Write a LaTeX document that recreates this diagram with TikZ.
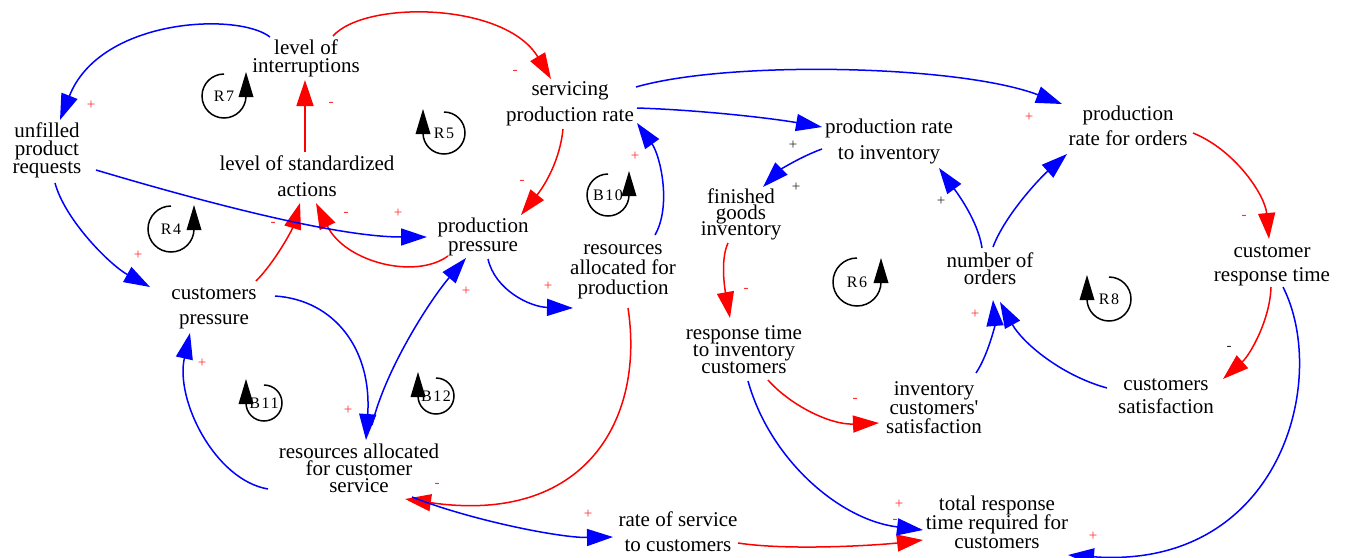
\documentclass[tikz,border=0pt]{standalone}
\usepackage{fontspec}
\setmainfont{Liberation Serif}
\newfontfamily\loopfont{Liberation Serif}[LetterSpace=10]
\usetikzlibrary{arrows.meta,calc}

\definecolor{linkblue}{RGB}{0,0,255}
\definecolor{linkred}{RGB}{255,0,0}
\definecolor{signred}{RGB}{255,45,45}
\definecolor{signgray}{RGB}{40,40,40}

\tikzset{
  % causal-loop variable, #1 = line spacing in pt
  var/.style={align=center, inner sep=1pt,
    font={\fontsize{21}{#1}\selectfont\lineskiplimit=-100pt}},
  link/.style={line width=1.5pt, -{Triangle[length=26pt,width=17pt]}},
  blink/.style={link, draw=linkblue},
  rlink/.style={link, draw=linkred},
  sgn/.style={font={\fontsize{15}{15}\selectfont}, text=signred, inner sep=0pt},
  sgnk/.style={sgn, text=signgray},
  looplabel/.style={font={\loopfont\fontsize{16}{16}\selectfont}, inner sep=0pt},
  % loop marker: #1 radius, #2 = 1 (arrow on the right) or -1 (arrow on the left), #3 label
  pics/loopmark/.style n args={3}{code={
    \begin{scope}[yscale=-1, xscale=#2]
      \draw[line width=1.5pt] (90:#1) arc[start angle=90, end angle=360, radius=#1];
      \fill (#1-7.5,-1) -- (#1+7.5,-1) -- (#1,24) -- cycle;
    \end{scope}
    \node[looplabel] (-label) {#3};
  }}
}

\begin{document}
\begin{tikzpicture}[x=1pt, y=-1pt]
\fill[white] (0,0) rectangle (1346,557);
\useasboundingbox (0,0) rectangle (1346,557);

% variables
\node[var=18] (intr) at (306,58) {level of\\interruptions};
\node[var=18] (unf)  at (47,150) {unfilled\\product\\requests};
\node[var=26] (std)  at (307,176) {level of standardized\\actions};
\node[var=26] (spr)  at (570,104) {servicing\\production rate};
\node[var=19] (ppr)  at (483,237) {production\\pressure};
\node[var=20] (rap)  at (623,272) {resources\\allocated for\\production};
\node[var=25] (cpr)  at (214,308) {customers\\pressure};
\node[var=17] (racs) at (359,468) {resources allocated\\for customer\\service};
\node[var=26] (pri)  at (889,141) {production rate\\to inventory};
\node[var=16] (fgi)  at (741,214) {finished\\goods\\inventory};
\node[var=25] (pro)  at (1128,126) {production\\rate for orders};
\node[var=24] (crt)  at (1272,266) {customer\\response time};
\node[var=17] (noo)  at (990,269) {number of\\orders};
\node[var=17] (rtic) at (744,350) {response time\\to inventory\\customers};
\node[var=19] (ics)  at (934,408) {inventory\\customers\textquotesingle\\satisfaction};
\node[var=23] (csat) at (1166,396) {customers\\satisfaction};
\node[var=25] (rsc)  at (678,532) {rate of service\\to customers};
\node[var=19] (trt)  at (997,522) {total response\\time required for\\customers};

% link polarities
\node[sgn]  (s1)  at (91,105)   {+};
\node[sgn]  (s2)  at (331,104)  {-};
\node[sgn]  (s3)  at (515,72)   {-};
\node[sgn]  (s4)  at (522,182)  {-};
\node[sgn]  (s5)  at (273,224)  {-};
\node[sgn]  (s6)  at (346,214)  {-};
\node[sgn]  (s7)  at (398,213)  {+};
\node[sgn]  (s8)  at (138,255)  {+};
\node[sgn]  (s9)  at (635,156)  {+};
\node[sgnk] (s10) at (793,145)  {+};
\node[sgnk] (s11) at (796,187)  {+};
\node[sgn]  (s12) at (1029,117) {+};
\node[sgnk] (s13) at (941,201)  {+};
\node[sgn]  (s14) at (1244,217) {-};
\node[sgn]  (s15) at (466,291)  {+};
\node[sgn]  (s16) at (548,286)  {+};
\node[sgn]  (s17) at (202,363)  {+};
\node[sgn]  (s18) at (348,410)  {+};
\node[sgn]  (s19) at (437,485)  {-};
\node[sgn]  (s20) at (588,514)  {+};
\node[sgn]  (s21) at (746,290)  {-};
\node[sgn]  (s22) at (855,400)  {-};
\node[sgn]  (s23) at (975,314)  {+};
\node[sgnk] (s24) at (1229,348) {-};
\node[sgn]  (s25) at (899,504)  {+};
\node[sgn]  (s26) at (895,521)  {-};
\node[sgn]  (s27) at (1093,536) {+};

% loop markers
\pic (R7)  at (224,96)   {loopmark={22}{1}{R7}};
\pic (R5)  at (444,133)  {loopmark={21}{-1}{R5}};
\pic (R4)  at (171,229)  {loopmark={23}{1}{R4}};
\pic (B10) at (608,195)  {loopmark={21}{1}{B10}};
\pic (B11) at (264,403)  {loopmark={18}{-1}{B11}};
\pic (B12) at (436,396)  {loopmark={18}{-1}{B12}};
\pic (R6)  at (857,282)  {loopmark={24}{1}{R6}};
\pic (R8)  at (1109,299) {loopmark={22}{-1}{R8}};

% causal links
\draw[blink] ($(intr)+(-36,-21)$) .. controls +(-32,-25) and +(40,-102) .. ($(unf)+(13,-30)$);
\draw[rlink] ($(intr)+(27,-22)$) .. controls +(32,-36) and +(-46,-77) .. ($(spr)+(-19,-25)$);
\draw[rlink] ($(std)+(-2,-24)$) -- ($(intr)+(-1,22)$);
\draw[rlink] ($(spr)+(-7,25)$) .. controls +(-3,31) and +(24,-30) .. ($(ppr)+(38,-22)$);
\draw[rlink] ($(ppr)+(-35,19)$) .. controls +(-33,24) and +(29,59) .. ($(std)+(9,27)$);
\draw[rlink] ($(cpr)+(42,-27)$) .. controls +(19,-19) and +(-8,27) .. ($(std)+(-7,27)$);
\draw[blink] ($(unf)+(49,20)$) .. controls +(84,25) and +(-97,0) .. ($(ppr)+(-56,0)$);
\draw[blink] ($(unf)+(8,33)$) .. controls +(10,37) and +(-40,-22) .. ($(cpr)+(-64,-21)$);
\draw[blink] ($(cpr)+(61,-12)$) .. controls +(60,4) and +(6,-90) .. ($(racs)+(7,-28)$);
\draw[blink] ($(racs)+(13,-43)$) .. controls +(13,-55) and +(-36,42) .. ($(ppr)+(-17,21)$);
\draw[blink] ($(racs)+(-91,21)$) .. controls +(-53,-9) and +(-15,67) .. ($(cpr)+(-24,25)$);
\draw[blink] ($(ppr)+(5,22)$) .. controls +(7,31) and +(-43,-1) .. ($(rap)+(-50,36)$);
\draw[blink] ($(rap)+(32,-37)$) .. controls +(17,-30) and +(23,32) .. ($(spr)+(67,19)$);
\draw[rlink] ($(rap)+(5,36)$) .. controls +(17,112) and +(180,26) .. ($(racs)+(46,31)$);
\draw[blink] ($(racs)+(53,29)$) .. controls +(58,23) and +(-53,1) .. ($(rsc)+(-65,5)$);
\draw[rlink] ($(rsc)+(60,11)$) .. controls +(52,8) and +(-43,5) .. ($(trt)+(-74,18)$);
\draw[blink] ($(rtic)+(4,31)$) .. controls +(22,79) and +(-83,-10) .. ($(trt)+(-74,8)$);
\draw[rlink] ($(rtic)+(24,30)$) .. controls +(22,25) and +(-49,2) .. ($(ics)+(-55,15)$);
\draw[rlink] ($(fgi)+(-13,29)$) .. controls +(-8,17) and +(-5,-28) .. ($(rtic)+(-14,-32)$);
\draw[blink] ($(pri)+(-67,8)$) .. controls +(-22,8) and +(17,-17) .. ($(fgi)+(22,-27)$);
\draw[blink] ($(spr)+(67,4)$) .. controls +(63,2) and +(-52,-9) .. ($(pri)+(-67,-14)$);
\draw[blink] ($(spr)+(66,-17)$) .. controls +(94,-27) and +(-102,-39) .. ($(pro)+(-66,-22)$);
\draw[blink] ($(noo)+(-8,-21)$) .. controls +(-4,-28) and +(16,22) .. ($(pri)+(50,27)$);
\draw[blink] ($(noo)+(3,-22)$) .. controls +(12,-32) and +(-27,24) .. ($(pro)+(-61,28)$);
\draw[rlink] ($(pro)+(65,7)$) .. controls +(42,17) and +(-4,-44) .. ($(crt)+(-3,-27)$);
\draw[rlink] ($(crt)+(-1,21)$) .. controls +(-1,33) and +(27,-24) .. ($(csat)+(57,-17)$);
\draw[blink] ($(crt)+(11,21)$) .. controls +(47,93) and +(212,15) .. ($(trt)+(71,33)$);
\draw[blink] ($(csat)+(-59,-8)$) .. controls +(-47,-13) and +(22,40) .. ($(noo)+(10,33)$);
\draw[blink] ($(ics)+(42,-35)$) .. controls +(12,-18) and +(2,25) .. ($(noo)+(3,31)$);
\end{tikzpicture}
\end{document}
